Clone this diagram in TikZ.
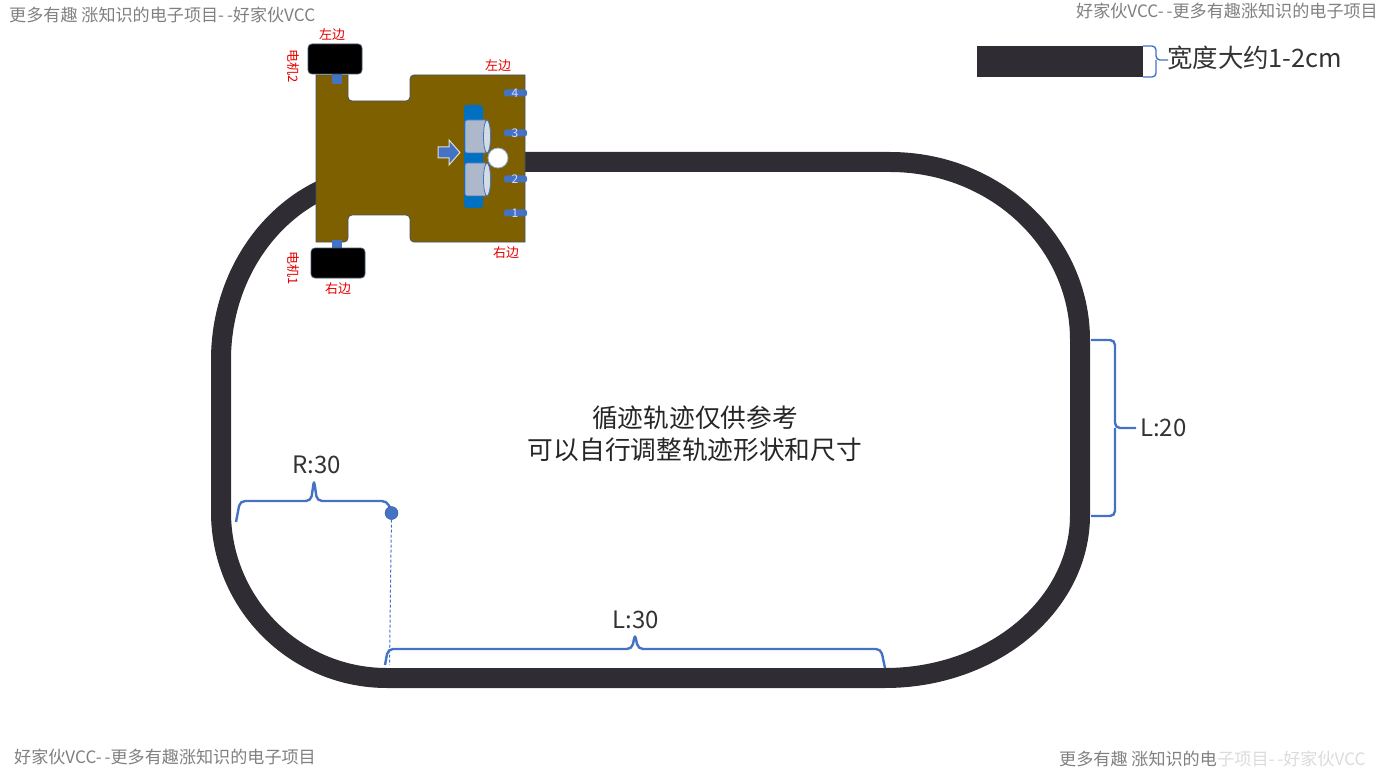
\documentclass[tikz,border=0pt]{standalone}
\usepackage{fontspec}
\setmainfont{Noto Sans CJK SC}
\definecolor{trackcol}{HTML}{2F2D33}
\definecolor{carcol}{HTML}{7F6000}
\definecolor{edgecol}{HTML}{44546A}
\definecolor{bluecol}{HTML}{4472C4}
\definecolor{stripcol}{HTML}{0070C0}
\definecolor{canc}{HTML}{ADB9CA}
\tikzset{
	markmark/.style={text=black!50, inner sep=0pt, font=\fontsize{17.1}{19}\selectfont},
	redlabel/.style={text=red!90!black, inner sep=0pt, font=\fontsize{13}{15}\selectfont},
	bigtext/.style={text=black!85, inner sep=0pt, align=center, font=\fontsize{25.7}{31.5}\selectfont},
	dimtext/.style={text=black!80, inner sep=0pt, font=\fontsize{24}{28}\selectfont},
	dimbrace/.style={draw=bluecol, line width=2.4pt, rounded corners=5pt},
	wheelbox/.style={fill=black, draw=edgecol, line width=0.8pt, rounded corners=4pt},
	sensorbox/.style={fill=bluecol, rounded corners=2.5pt},
	sensortext/.style={text=white!85!blue, inner sep=0pt, font=\fontsize{12}{14}\selectfont},
	cancol/.style={fill=canc, draw=bluecol, line width=0.8pt}
}
\begin{document}
\begin{tikzpicture}[x=1pt,y=-1pt]
	\useasboundingbox (0,0) rectangle (1384,770);
	% track
	\draw [trackcol, line width=20pt] (525,162) -- (890,162)
		arc [start angle=-90, end angle=0, x radius=190, y radius=178] -- (1080,515)
		arc [start angle=0, end angle=90, x radius=195, y radius=163] -- (387,678)
		arc [start angle=90, end angle=180, x radius=166, y radius=166] -- (221,360)
		arc [start angle=180, end angle=270, x radius=166, y radius=185] -- cycle;
	% car body
	\draw [fill=carcol, draw=edgecol, line width=0.8pt] (316,75) -- (348,75) [rounded corners=4pt] -- (348,101) -- (410,101) -- (410,75) [sharp corners] -- (525,75)
		-- (525,242) [rounded corners=4pt] -- (410,242) -- (410,215) -- (348,215) -- (348,242) [sharp corners] -- (316,242) -- cycle;
	\fill [bluecol] (332,72) rectangle (342,84);
	\fill [bluecol] (332,240) rectangle (342,252);
	\draw [wheelbox] (308,44) rectangle (362,74);
	\draw [wheelbox] (311,248) rectangle (365,278);
	% sensors
	\foreach \ypos/\num in {93/4,133/3,179/2,213/1} {
		\fill [sensorbox] (504,\ypos-3.5) rectangle (527,\ypos+3.5);
		\node [sensortext] (sensor\num) at (515,\ypos) {\num};
	}
	% ultrasonic module
	\fill [stripcol, rounded corners=3pt] (464,105) rectangle (483,208);
	\draw [cancol, rounded corners=2pt] (465,120) rectangle (487,153);
	\draw [cancol, rounded corners=2pt] (465,163) rectangle (487,196);
	\draw [cancol, fill=canc!50!white] (487,136.5) ellipse [x radius=3.5, y radius=16.5];
	\draw [cancol, fill=canc!50!white] (487,179.5) ellipse [x radius=3.5, y radius=16.5];
	\draw [fill=white, draw=bluecol!60!white, line width=0.8pt] (498,158) circle (10);
	\draw [fill=bluecol, draw=white!80!carcol, line width=1pt] (438,147) -- (449,147) -- (449,140) -- (460,152.5) -- (449,165) -- (449,158) -- (438,158) -- cycle;
	% red labels
	\node [redlabel] (wheelleft) at (332,34.5) {左边};
	\node [redlabel] (wheelright) at (338,288.5) {右边};
	\node [redlabel] (bodyleft) at (498,65.5) {左边};
	\node [redlabel] (bodyright) at (506,252.5) {右边};
	\node [redlabel, rotate=-90] (motortwo) at (293,66) {电机2};
	\node [redlabel, rotate=-90] (motorone) at (293,268) {电机1};
	% width sample
	\fill [trackcol] (977,46) rectangle (1143,77);
	\draw [dimbrace, line width=1.4pt, rounded corners=4pt] (1143,46) -- (1156,46) -- (1156,60) -- (1168,60);
	\draw [dimbrace, line width=1.4pt, rounded corners=4pt] (1143,77) -- (1156,77) -- (1156,60);
	\node [dimtext, anchor=west, font=\fontsize{25.4}{28}\selectfont] (widthnote) at (1167,58) {宽度大约1-2cm};
	% dimensions
	\draw [dimbrace] (1091,340) -- (1115,340) -- (1115,428) -- (1136,428);
	\draw [dimbrace] (1091,516) -- (1115,516) -- (1115,428);
	\node [dimtext, anchor=west] (lentwenty) at (1140,428) {L:20};
	\draw [dimbrace] (236,522) -- (240,501) -- (311,501) -- (314,480) -- (317,501) -- (387,501) -- (390,508);
	\node [dimtext] (radius) at (317,465) {R:30};
	\draw [dimbrace] (385,665) -- (388,649) -- (632,649) -- (635,634) -- (638,649) -- (881,649) -- (885,668);
	\node [dimtext] (lenthirty) at (636,620) {L:30};
	\node [circle, fill=bluecol, draw=bluecol!70!black, inner sep=0pt, minimum size=13pt] (center) at (391.5,513) {};
	\coordinate (trackfoot) at (389.5,665);
	\draw [bluecol, line width=1pt, densely dashed] (center) -- (trackfoot);
	% note
	\node [bigtext] (note) at (695,433.5) {循迹轨迹仅供参考\\可以自行调整轨迹形状和尺寸};
	% corner marks
	\node [markmark, anchor=west] (marktl) at (9,15) {更多有趣 涨知识的电子项目-\,-好家伙VCC};
	\node [markmark, anchor=east] (marktr) at (1378,11) {好家伙VCC-\,-更多有趣涨知识的电子项目};
	\node [markmark, anchor=west] (markbl) at (14,757) {好家伙VCC-\,-更多有趣涨知识的电子项目};
	\node [markmark, anchor=west] (markbr) at (1059,759) {更多有趣 涨知识的电};
	\node [markmark, anchor=west, text=black!14] (markfade) at (markbr.east) {子项目-\,-好家伙VCC};
\end{tikzpicture}
\end{document}
